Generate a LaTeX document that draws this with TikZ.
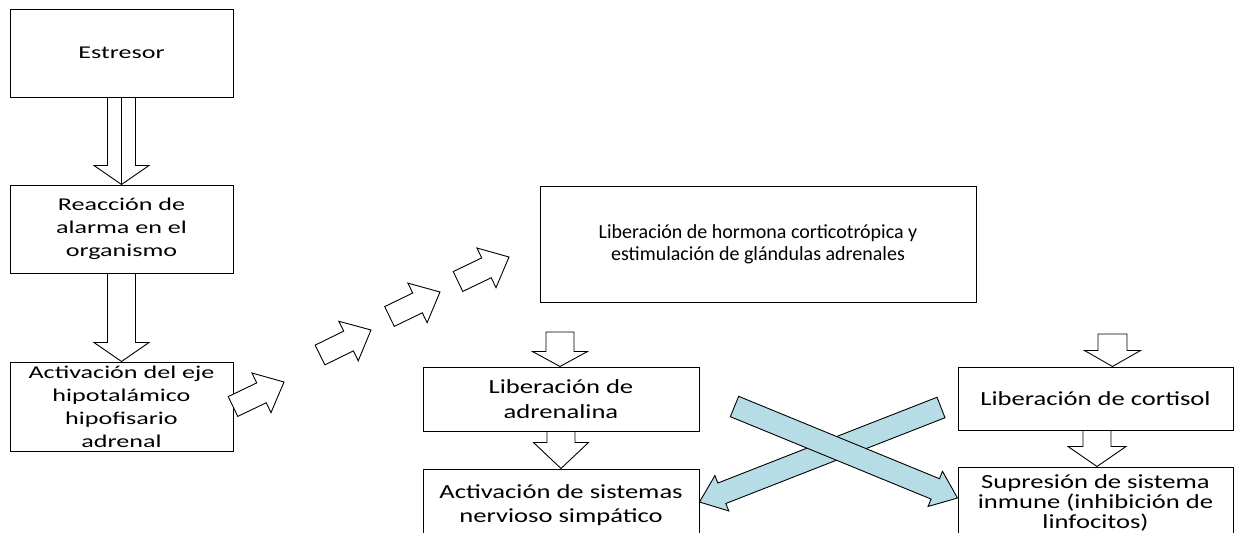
\documentclass[tikz,border=0pt]{standalone}
\usepackage{fontspec}
\setmainfont{Carlito}
\newfontfamily\widefont{Carlito}[FakeStretch=1.45]
\newfontfamily\midfont{Carlito}[FakeStretch=1.33]
\usetikzlibrary{calc}
\definecolor{crossblue}{RGB}{182,221,230}

\tikzset{
  box/.style={draw, line width=1pt, inner sep=0pt, align=center},
  leftbox/.style={box, minimum width=223pt, font={\widefont\fontsize{18}{23}\selectfont}},
  rightbox/.style={box, font={\midfont\fontsize{20}{24.5}\selectfont}},
  hollow/.style={draw, fill=white, line width=0.9pt, line join=miter},
  crossing/.style={draw, fill=crossblue, line width=0.9pt, line join=miter},
  fatto/.style n args={3}{to path={
    let \p1=(\tikztostart), \p2=(\tikztotarget),
        \n1={atan2(\y2-\y1,\x2-\x1)}, \n2={veclen(\x2-\x1,\y2-\y1)-#3} in
    ($(\p1)+(\n1+90:#1)$) -- ($(\p1)+(\n1:\n2)+(\n1+90:#1)$) -- ($(\p1)+(\n1:\n2)+(\n1+90:#2)$)
    -- (\p2) -- ($(\p1)+(\n1:\n2)+(\n1-90:#2)$) -- ($(\p1)+(\n1:\n2)+(\n1-90:#1)$)
    -- ($(\p1)+(\n1-90:#1)$) -- cycle}},
}

\begin{document}
\begin{tikzpicture}[x=1pt,y=-1pt]
  \path[use as bounding box, clip] (0,0) rectangle (1235,533);

  % left column
  \node[leftbox, minimum height=88pt] (estresor) at (121.5,53) {Estresor};
  \node[leftbox, minimum height=88pt] (reaccion) at (121.5,229) {Reacción de\\alarma en el\\organismo};
  \node[leftbox, minimum height=89pt] (eje) at (121.5,406.5) {Activación del eje\\hipotalámico\\hipofisario\\adrenal};

  \draw[hollow, fatto={14pt}{27.5pt}{19pt}] (estresor.south) to (reaccion.north);
  \draw[hollow] (estresor.south) -- (reaccion.north);
  \draw[hollow, fatto={14pt}{27.5pt}{19pt}] (reaccion.south) to (eje.north);

  % steps up to the hormone box
  \draw[hollow, fatto={11pt}{22pt}{25pt}] (233,406.5) to (284,382);
  \draw[hollow, fatto={11pt}{22pt}{25pt}] (320,355) to (371,330);
  \draw[hollow, fatto={11pt}{22pt}{25pt}] (389.5,316.5) to (440,292);
  \draw[hollow, fatto={11pt}{22pt}{25pt}] (458,281.5) to (509,257);

  % right part
  \node[box, minimum width=436pt, minimum height=116pt, font={\fontsize{20}{22}\selectfont}] (hormona) at (758,244)
    {Liberación de hormona corticotrópica y\\estimulación de glándulas adrenales};
  \node[rightbox, minimum width=276pt, minimum height=64pt] (adrenalina) at (561,399) {Liberación de\\adrenalina};
  \node[rightbox, minimum width=276pt, minimum height=72pt] (simpatico) at (561,505) {Activación de sistemas\\nervioso simpático};
  \node[rightbox, minimum width=275pt, minimum height=63pt] (cortisol) at (1095.5,398.5) {Liberación de cortisol};
  \node[rightbox, minimum width=275pt, minimum height=72pt, font={\midfont\fontsize{20}{20}\selectfont}] (inmune) at (1095.5,503)
    {Supresión de sistema\\inmune (inhibición de\\linfocitos)};

  \coordinate (a1) at (560,332);
  \coordinate (c1) at (1112.5,334);
  \draw[hollow, fatto={14pt}{27.5pt}{15pt}] (a1) to (a1 |- adrenalina.north);
  \draw[hollow, fatto={14pt}{27.5pt}{26pt}] (adrenalina.south) to (simpatico.north);
  \draw[hollow, fatto={14.5pt}{28pt}{16pt}] (c1) to (c1 |- cortisol.north);
  \draw[hollow, fatto={14pt}{29pt}{20pt}] ([xshift=1.5pt]cortisol.south) to ([xshift=1.5pt]inmune.north);

  % crossed arrows
  \coordinate (ta) at (734.5,406.5);
  \coordinate (tb) at (941,407.5);
  \draw[crossing, fatto={11pt}{19pt}{24pt}] (tb) to ([yshift=3pt]simpatico.east);
  \draw[crossing, fatto={11pt}{19pt}{24pt}] (ta) to ([yshift=5pt]inmune.west);
\end{tikzpicture}
\end{document}
